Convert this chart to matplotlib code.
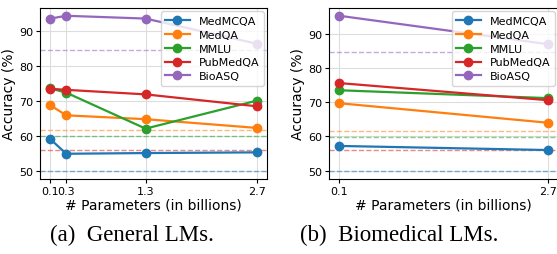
import matplotlib.pyplot as plt
import numpy as np

tasks = ['MedMCQA', 'MedQA', 'MMLU', 'PubMedQA', 'BioASQ']
colors = ['tab:blue', 'tab:orange', 'tab:green', 'tab:red', 'tab:purple']

# baseline accuracies (dashed)
baselines = [49.8, 56.0, 59.9, 61.5, 84.6]
baseline_colors = ['tab:blue', 'tab:red', 'tab:green', 'tab:orange', 'tab:purple']

general_x = [0.1, 0.3, 1.3, 2.7]
general_medmcqa = [59.0, 54.8, 55.0, 55.2]
general_medqa = [68.7, 65.8, 64.7, 62.2]
general_mmlu = [73.5, 72.3, 62.0, 70.0]
general_pubmedqa = [73.4, 73.1, 71.8, 68.4]
general_bioasq = [93.5, 94.3, 93.5, 86.3]

bio_x = [0.1, 2.7]
bio_medmcqa = [57.2, 56.0]
bio_medqa = [69.7, 64.0]
bio_mmlu = [73.5, 71.2]
bio_pubmedqa = [75.6, 70.6]
bio_bioasq = [95.3, 87.0]

general = [general_medmcqa, general_medqa, general_mmlu, general_pubmedqa, general_bioasq]
bio = [bio_medmcqa, bio_medqa, bio_mmlu, bio_pubmedqa, bio_bioasq]

fig = plt.figure(figsize=(5.57, 2.55), dpi=100)
W, H = 557, 255
ax1 = fig.add_axes([40 / W, 1 - 180 / H, 227 / W, 171 / H])
ax2 = fig.add_axes([329 / W, 1 - 180 / H, 229 / W, 171 / H])

def draw(ax, x, series):
    ax.grid(True, color='#dddddd', linewidth=0.8)
    ax.set_axisbelow(True)
    for b, c in zip(baselines, baseline_colors):
        ax.axhline(b, color=c, linestyle='--', linewidth=1.0, alpha=0.55)
    for name, ys, c in zip(tasks, series, colors):
        ax.plot(x, ys, '-o', color=c, label=name, linewidth=1.6, markersize=6)
    ax.set_xticks(x)
    ax.set_xticklabels([str(v) for v in x])
    ax.set_yticks([50, 60, 70, 80, 90])
    ax.tick_params(labelsize=8, length=3, pad=2)
    ax.set_xlabel('# Parameters (in billions)', fontsize=10, labelpad=1)
    ax.set_ylabel('Accuracy (%)', fontsize=10, labelpad=2)
    ax.legend(loc='upper right', fontsize=8, handlelength=2.2, borderaxespad=0.3,
              labelspacing=0.35)

draw(ax1, general_x, general)
draw(ax2, bio_x, bio)

fig.text(132 / W, 1 - 235 / H, '(a)  General LMs.', family='Liberation Serif',
         fontsize=16.5, ha='center', va='center')
fig.text(399 / W, 1 - 235 / H, '(b)  Biomedical LMs.', family='Liberation Serif',
         fontsize=16.5, ha='center', va='center')

fig.savefig('out.png', dpi=100)
